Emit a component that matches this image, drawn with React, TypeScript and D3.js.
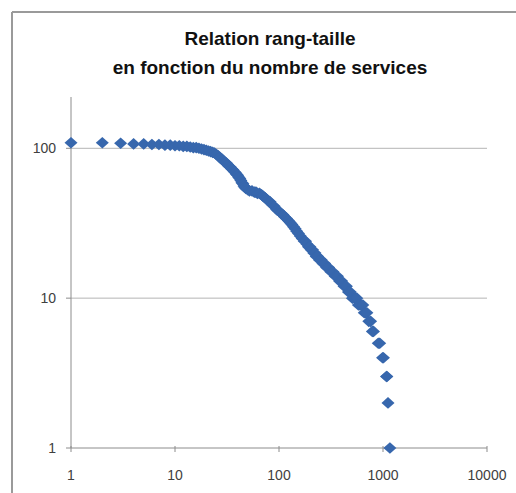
import React from "react";
import * as d3 from "d3";

const titleLines = ["Relation rang-taille", "en fonction du nombre de services"];
const xTicks = [1, 10, 100, 1000, 10000];
const yTicks = [1, 10, 100];
const yMax = 220;

const ranks = [
  1, 2, 3, 4, 5, 6, 7, 8, 9, 10, 11, 12, 13, 14, 15, 16, 17, 18, 19, 20,
  21, 22, 23, 24, 25, 26, 27, 28, 29, 30, 31, 32, 33, 34, 35, 36, 37, 38, 39, 40,
  41, 42, 43, 44, 45, 46, 47, 48, 50, 52, 55, 58, 60, 62, 65, 68, 70, 73, 75, 78,
  82, 86, 90, 95, 100, 104, 109, 113, 118, 123, 128, 133, 138, 143, 148, 154, 160, 167, 175, 180,
  185, 192, 198, 204, 210, 216, 222, 228, 235, 245, 255, 265, 275, 287, 300, 315, 330, 347, 365, 382,
  400, 422, 445, 465, 485, 508, 530, 545, 560, 580, 600, 620, 640, 660, 680, 700, 730, 760, 790, 810,
  900, 930, 990, 1010, 1080, 1090, 1117, 1165,
];
const sizes = [
  109, 109, 108, 107, 107, 106, 106, 105, 105, 104, 104, 103, 103, 102, 101, 101, 100, 99, 98, 97,
  96, 95, 94, 93, 91, 89, 87, 85, 83, 81, 80, 78, 76, 75, 73, 72, 70, 69, 67, 66,
  64, 63, 61, 59, 58, 56, 55, 54, 53, 52, 52, 51, 51, 50, 50, 49, 48, 47, 46, 45,
  44, 42, 41, 39, 38, 37, 36, 35, 34, 33, 32, 31, 30, 29, 28, 27, 26, 25, 24, 24,
  23, 22, 22, 21, 21, 20, 20, 19, 19, 18, 18, 17, 17, 16, 16, 15, 15, 14, 14, 13,
  13, 12, 12, 11, 11, 10, 10, 10, 10, 9, 9, 9, 9, 8, 8, 8, 7, 7, 6, 6,
  5, 5, 4, 4, 3, 3, 2, 1,
];

export default function App() {
  const W = 516, H = 493;
  const x = d3.scaleLog().domain([1, 10000]).range([71, 487]);
  const y = d3.scaleLog().domain([1, yMax]).range([448, 97]);
  const hw = 6.5, hh = 5.8;
  const diamond = `M0,${-hh}L${hw},0L0,${hh}L${-hw},0Z`;
  const axisColor = "#8c8c8c";
  const gridColor = "#b4b4b4";
  const labelColor = "#404040";
  const font = "Arial, 'Liberation Sans', sans-serif";
  return (
    <svg width={W} height={H} style={{ position: "absolute", left: 0, top: 0, background: "#fff" }}>
      <rect x={0} y={0} width={W} height={H} fill="#fff" />
      <line x1={12} y1={12} x2={W + 5} y2={12} stroke="#9a9a9a" strokeWidth={2} />
      <line x1={12} y1={12} x2={12} y2={H + 5} stroke="#9a9a9a" strokeWidth={2} />
      {titleLines.map((t, i) => (
        <text key={i} x={270} y={45 + i * 29} textAnchor="middle" fontFamily={font}
          fontWeight="bold" fontSize={19} fill="#111">{t}</text>
      ))}
      {yTicks.filter(v => v > 1).map(v => (
        <line key={v} x1={x(1)} x2={x(10000)} y1={y(v)} y2={y(v)} stroke={gridColor} strokeWidth={1} />
      ))}
      <line x1={x(1)} x2={x(1)} y1={y(yMax)} y2={y(1)} stroke={axisColor} strokeWidth={1} />
      <line x1={x(1)} x2={x(10000)} y1={y(1)} y2={y(1)} stroke={axisColor} strokeWidth={1} />
      {yTicks.map(v => (
        <g key={v}>
          <line x1={x(1) - 5} x2={x(1)} y1={y(v)} y2={y(v)} stroke={axisColor} />
          <text x={56} y={y(v) + 5} textAnchor="end" fontFamily={font} fontSize={14} fill={labelColor}>{v}</text>
        </g>
      ))}
      {xTicks.map(v => (
        <g key={v}>
          <line x1={x(v)} x2={x(v)} y1={y(1) - 2} y2={y(1) + 4} stroke={axisColor} />
          <text x={x(v)} y={480} textAnchor="middle" fontFamily={font} fontSize={14} fill={labelColor}>{v}</text>
        </g>
      ))}
      {ranks.map((r, i) => (
        <path key={i} d={diamond} transform={`translate(${x(r)},${y(sizes[i])})`} fill="#3767ad" />
      ))}
    </svg>
  );
}
